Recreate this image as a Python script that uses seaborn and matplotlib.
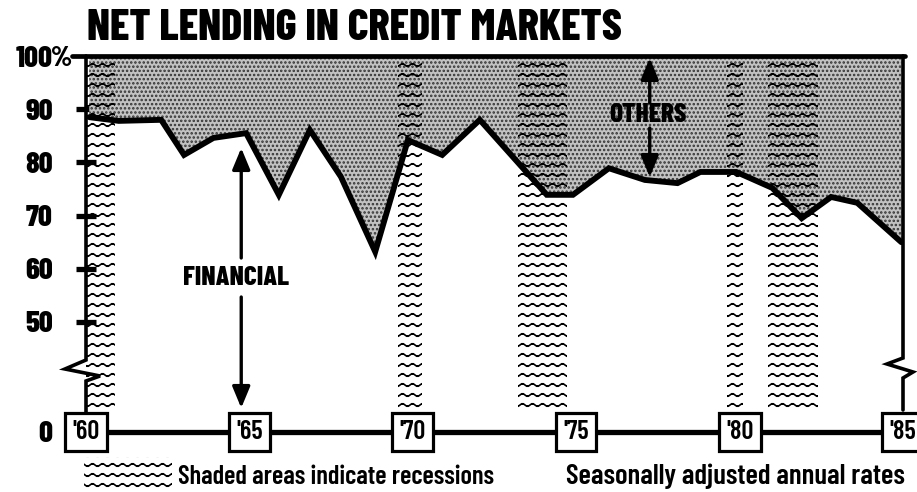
import numpy as np
import matplotlib
matplotlib.use("Agg")
import matplotlib.pyplot as plt
import matplotlib.hatch as mhatch
from matplotlib.path import Path
from matplotlib.patches import Rectangle
from matplotlib import font_manager as fm
import seaborn as sns

# ---------------- data ----------------
years = [1960.1, 1961.0, 1962.3, 1963.0, 1963.9, 1964.9, 1965.9, 1966.85, 1967.8,
         1968.85, 1969.85, 1970.9, 1972.05, 1974.1, 1974.9, 1976.0, 1977.1, 1978.1,
         1978.8, 1979.9, 1981.0, 1981.9, 1982.8, 1983.6, 1984.95]
financial = [88.5, 87.8, 88.0, 81.4, 84.6, 85.5, 73.9, 86.1, 77.3,
             63.2, 84.2, 81.4, 88.0, 73.9, 73.9, 78.9, 76.7, 76.1,
             78.2, 78.2, 75.2, 69.5, 73.5, 72.4, 65.0]
recession_start = [1960.0, 1969.55, 1973.22, 1979.61, 1980.87]
recession_end = [1960.89, 1970.28, 1974.72, 1980.10, 1982.40]
ytick_values = [0, 50, 60, 70, 80, 90, 100]
ytick_labels = ["0", "50", "60", "70", "80", "90", "100"]
year_ticks = [1960, 1965, 1970, 1975, 1980, 1985]
year_labels = ["'60", "'65", "'70", "'75", "'80", "'85"]
title = "NET LENDING IN CREDIT MARKETS"
label_financial = "FINANCIAL"
label_others = "OTHERS"
note_left = "Shaded areas indicate recessions"
note_right = "Seasonally adjusted annual rates"


# ---------------- wavy hatch for recession bands ----------------
class WaveHatch(mhatch.HorizontalHatch):
    NPTS = 61

    def __init__(self, hatch, density):
        self.num_lines = int((hatch.count('-') + hatch.count('+')) * 5)
        self.num_vertices = self.num_lines * self.NPTS

    def set_vertices_and_codes(self, vertices, codes):
        steps, stepsize = np.linspace(0.0, 1.0, self.num_lines, False, retstep=True)
        steps += stepsize / 2.0
        xs = np.linspace(0.0, 1.0, self.NPTS)
        wave = 0.014 * np.sin(2 * np.pi * 10 * xs)
        for i, s in enumerate(steps):
            a, b = i * self.NPTS, (i + 1) * self.NPTS
            vertices[a:b, 0] = xs
            vertices[a:b, 1] = s + wave
            codes[a:b] = Path.LINETO
            codes[a] = Path.MOVETO


try:
    mhatch._hatch_types[0] = WaveHatch
except Exception:
    pass

# ---------------- style ----------------
sns.set_theme(style="white")
names = {f.name for f in fm.fontManager.ttflist}
COND = "DejaVu Sans"
for cand in ["Barlow Condensed", "Archivo Narrow", "Asap Condensed",
             "Liberation Sans Narrow"]:
    if cand in names:
        COND = cand
        break
plt.rcParams["font.family"] = [COND, "DejaVu Sans"]
if COND == "DejaVu Sans":
    plt.rcParams["font.stretch"] = "condensed"
for k in ["text.color", "axes.labelcolor", "xtick.color", "ytick.color"]:
    plt.rcParams[k] = "black"
plt.rcParams["hatch.linewidth"] = 1.2
HEAVY = 800
MED = 600

W, H = 917, 492
fig = plt.figure(figsize=(W / 100, H / 100), dpi=100)
AX_L, AX_R, AX_T, AX_B = 86, 903, 56, 432
ax = fig.add_axes([AX_L / W, (H - AX_B) / H, (AX_R - AX_L) / W, (AX_B - AX_T) / H])

BRK, K = 40.0, 0.267


def fwd(y):
    y = np.asarray(y, float)
    return np.where(y >= BRK, y, BRK - (BRK - y) * K)


def inv(t):
    t = np.asarray(t, float)
    return np.where(t >= BRK, t, BRK - (BRK - t) / K)


ax.set_yscale("function", functions=(fwd, inv))
ax.set_xlim(1960, 1985)
ax.set_ylim(0, 100)

# shaded "others" area
ax.fill_between(years, financial, 100, facecolor="#c2c2c2", edgecolor="#333333",
                hatch="....", linewidth=0, zorder=1)

# recession bands
for s, e in zip(recession_start, recession_end):
    ax.axvspan(s, e, ymin=0.06, ymax=1.0, facecolor="none", edgecolor="black",
               hatch="--", linewidth=0, zorder=2)

# financial share line
sns.lineplot(x=years, y=financial, color="black", linewidth=4.2, ax=ax,
             sort=False, estimator=None, zorder=3, solid_joinstyle="miter")

for sp in ax.spines.values():
    sp.set_visible(False)
ax.set_xticks([])
ax.set_yticks(ytick_values, ytick_labels)
ax.tick_params(axis="y", which="major", length=14, width=3.8, direction="inout",
               pad=17, labelsize=22, left=True, color="black")
for val, tk in zip(ytick_values, ax.yaxis.get_major_ticks()):
    if val in (0, 100):
        tk.tick1line.set_visible(False)
for lbl in ax.get_yticklabels():
    lbl.set_fontweight(HEAVY)
ax.annotate("%", xy=(0, 100), xycoords=("axes fraction", "data"), xytext=(-35, 0),
            textcoords="offset pixels", ha="left", va="center_baseline",
            fontsize=20, fontweight=HEAVY)
ax.set_xlabel("")
ax.set_ylabel("")
ax.set_facecolor("white")


def P(px, py):
    return ((px - AX_L) / (AX_R - AX_L), (AX_B - py) / (AX_B - AX_T))


def frame(pts, lw):
    xs, ys = zip(*[P(*p) for p in pts])
    ax.plot(xs, ys, transform=ax.transAxes, color="black", lw=lw, clip_on=False,
            zorder=4, solid_joinstyle="miter")


frame([(86, 56), (86, 360), (65, 369), (100, 376), (86, 381), (86, 412)], 2.6)
frame([(903, 56), (903, 358), (887, 364), (913, 372), (903, 378), (903, 410)], 2.6)
frame([(72, 56), (905, 56)], 3.4)

ax.axhline(0, color="black", lw=3.8, zorder=4, clip_on=False)
for yr, lbl in zip(year_ticks, year_labels):
    ax.text(yr, 0, lbl, ha="center", va="center", fontsize=19, fontweight=MED,
            bbox=dict(boxstyle="square,pad=0.28", fc="white", ec="black", lw=2.3),
            zorder=6, clip_on=False)

# annotations
arrow_kw = dict(arrowstyle="-|>,head_length=0.65,head_width=0.27", color="black",
                lw=2.4, shrinkA=0, shrinkB=0, mutation_scale=20)
xf = 1964.75
ax.annotate("", xy=(xf, P(0, 148)[1]), xycoords=("data", "axes fraction"),
            xytext=(xf, P(0, 258)[1]), textcoords=("data", "axes fraction"),
            arrowprops=arrow_kw, zorder=5)
ax.annotate("", xy=(xf, P(0, 408)[1]), xycoords=("data", "axes fraction"),
            xytext=(xf, P(0, 297)[1]), textcoords=("data", "axes fraction"),
            arrowprops=arrow_kw, zorder=5)
t_fin = ax.text(1964.6, P(0, 278)[1], label_financial, transform=ax.get_xaxis_transform(),
                ha="center", va="center", fontsize=18, fontweight=HEAVY, zorder=5)

xo = 1977.25
ax.annotate("", xy=(xo, P(0, 58)[1]), xycoords=("data", "axes fraction"),
            xytext=(xo, P(0, 103)[1]), textcoords=("data", "axes fraction"),
            arrowprops=arrow_kw, zorder=5)
ax.annotate("", xy=(xo, P(0, 177)[1]), xycoords=("data", "axes fraction"),
            xytext=(xo, P(0, 128)[1]), textcoords=("data", "axes fraction"),
            arrowprops=arrow_kw, zorder=5)
t_oth = ax.text(1977.2, P(0, 115)[1], label_others, transform=ax.get_xaxis_transform(),
                ha="center", va="center", fontsize=18, fontweight=HEAVY, zorder=5)

# title and footer
t_title = fig.text(87 / W, (H - 40) / H, title, fontsize=31, fontweight=HEAVY,
                   va="baseline", ha="left")
fig.add_artist(Rectangle((84 / W, (H - 490) / H), 88 / W, 33 / H,
                         transform=fig.transFigure, facecolor="none",
                         edgecolor="black", hatch="--", linewidth=0))
t_nl = fig.text(178 / W, (H - 484) / H, note_left, fontsize=17, fontweight=MED,
                va="baseline", ha="left")
t_nr = fig.text(905 / W, (H - 484) / H, note_right, fontsize=17, fontweight=MED,
                va="baseline", ha="right")

# fit text widths to the reference widths (pixels)
fig.canvas.draw()
rend = fig.canvas.get_renderer()
for t, target in [(t_title, 535), (t_nl, 316), (t_nr, 338), (t_fin, 106), (t_oth, 77)]:
    w = t.get_window_extent(rend).width
    if w > 0:
        t.set_fontsize(t.get_fontsize() * target / w)

fig.savefig("out.png", dpi=100)
